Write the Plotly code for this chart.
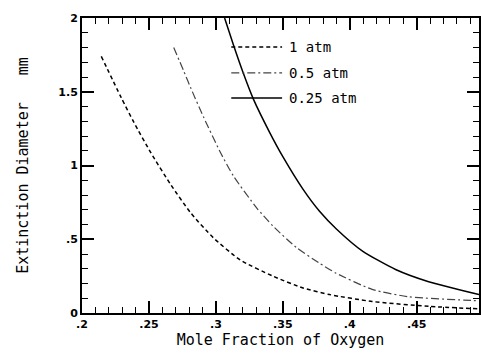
import plotly.graph_objects as go

x_1atm = [0.2144, 0.2293, 0.2389, 0.2515, 0.2663, 0.2811, 0.2981, 0.3181, 0.3426, 0.3650, 0.3848, 0.4167, 0.459, 0.4965]
y_1atm = [1.74, 1.46, 1.29, 1.085, 0.87, 0.68, 0.51, 0.36, 0.25, 0.17, 0.125, 0.078, 0.045, 0.028]

x_05atm = [0.2685, 0.276, 0.281, 0.2907, 0.3033, 0.313, 0.3307, 0.3426, 0.36, 0.377, 0.3898, 0.4167, 0.444, 0.4907, 0.4965]
y_05atm = [1.80, 1.64, 1.53, 1.33, 1.09, 0.93, 0.71, 0.59, 0.445, 0.34, 0.27, 0.16, 0.11, 0.085, 0.082]

x_025atm = [0.3065, 0.313, 0.3205, 0.328, 0.3404, 0.350, 0.365, 0.3774, 0.390, 0.4095, 0.4342, 0.4589, 0.4965]
y_025atm = [2.0, 1.82, 1.625, 1.45, 1.22, 1.06, 0.84, 0.69, 0.57, 0.42, 0.295, 0.212, 0.125]

series_names = ["1 atm", "0.5 atm", "0.25 atm"]

x_tickvals = [0.2, 0.25, 0.3, 0.35, 0.4, 0.45]
x_ticktext = [".2", ".25", ".3", ".35", ".4", ".45"]
y_tickvals = [0, 0.5, 1, 1.5, 2]
y_ticktext = ["0", ".5", "1", "1.5", "2"]

TICKFONT = dict(family="DejaVu Sans", size=11, color="black", weight="bold")
TEXTFONT = "DejaVu Sans Mono"

styles = [
    dict(color="black", width=1.5, dash="4px,3px"),
    dict(color="#444444", width=1.2, dash="8px,3px,2px,3px"),
    dict(color="black", width=1.5, dash="solid"),
]

fig = go.Figure()
for xs, ys, name, st in zip([x_1atm, x_05atm, x_025atm], [y_1atm, y_05atm, y_025atm], series_names, styles):
    fig.add_trace(go.Scatter(x=xs, y=ys, mode="lines", name=name, showlegend=False,
                             line=dict(shape="spline", smoothing=0.6, **st)))

# legend drawn in paper coordinates to match the original's long sample lines
leg_rows = [0.902, 0.814, 0.729]
for name, st, yy in zip(series_names, styles, leg_rows):
    fig.add_shape(type="line", xref="paper", yref="paper", x0=0.376, x1=0.504, y0=yy, y1=yy,
                  line=dict(color=st["color"], width=st["width"], dash=st["dash"]))
    fig.add_annotation(xref="paper", yref="paper", x=0.517, y=yy, xanchor="left", yanchor="middle",
                       text=name, showarrow=False, font=dict(family=TEXTFONT, size=14, color="black"))

axis_common = dict(showline=True, linecolor="black", linewidth=2, mirror="allticks",
                   ticks="inside", tickcolor="black", tickwidth=1.6, ticklen=12,
                   showgrid=False, zeroline=False, tickfont=TICKFONT)

fig.update_xaxes(range=[0.2, 0.4965], tickvals=x_tickvals, ticktext=x_ticktext,
                 minor=dict(tickvals=[round(0.2 + 0.01 * i, 2) for i in range(30)],
                            ticks="inside", ticklen=6, tickcolor="black", tickwidth=1.1, showgrid=False),
                 title=dict(text="Mole Fraction of Oxygen", font=dict(family=TEXTFONT, size=15, color="black"), standoff=2),
                 **axis_common)
fig.update_yaxes(range=[0, 2], tickvals=y_tickvals, ticktext=y_ticktext,
                 minor=dict(tickvals=[round(0.1 * i, 1) for i in range(21)],
                            ticks="inside", ticklen=6, tickcolor="black", tickwidth=1.1, showgrid=False),
                 title=dict(text="Extinction Diameter   mm", font=dict(family=TEXTFONT, size=15, color="black"), standoff=26),
                 **axis_common)

fig.update_layout(
    width=481, height=354,
    margin=dict(l=82, r=0, t=18, b=41),
    paper_bgcolor="white", plot_bgcolor="white",
    showlegend=False,
)

fig.write_html("out.html")
